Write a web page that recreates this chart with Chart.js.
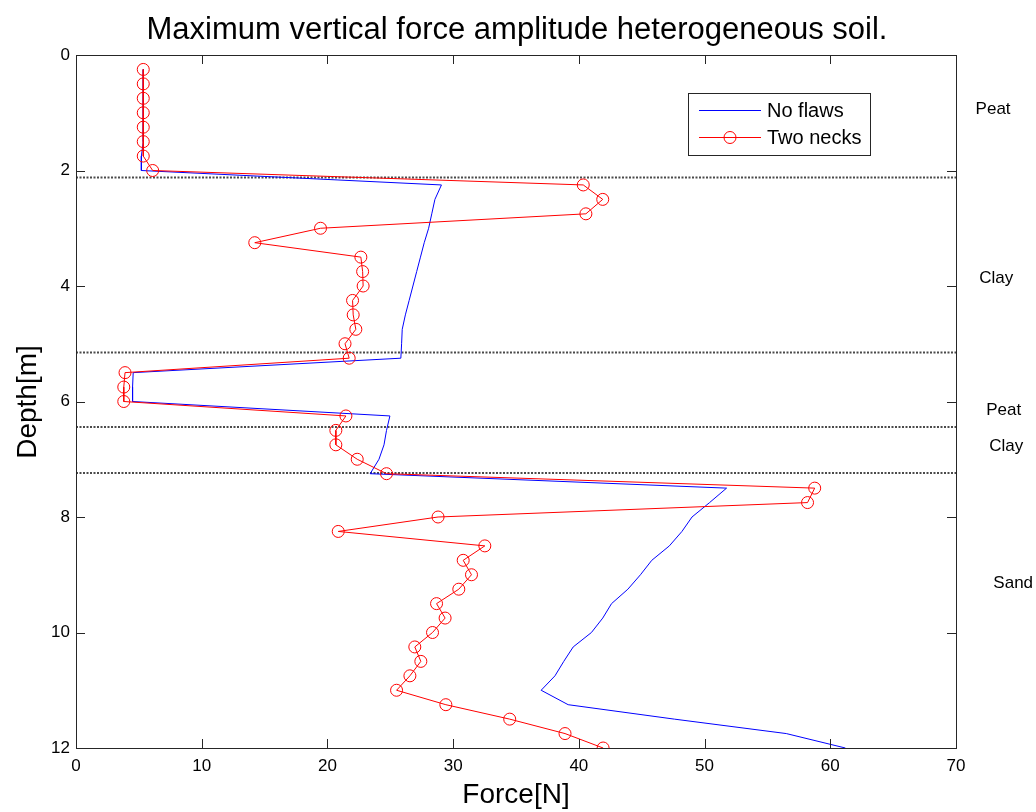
<!DOCTYPE html>
<html>
<head>
<meta charset="utf-8">
<script src="https://cdn.jsdelivr.net/npm/chart.js@4.4.1/dist/chart.umd.min.js"></script>
<style>
  html, body { margin: 0; padding: 0; background: #fff; }
  #c { display: block; }
</style>
</head>
<body>
<canvas id="c" width="1036" height="812"></canvas>
<script>
// ---------- data ----------
const titleText = 'Maximum vertical force amplitude heterogeneous soil.';
const xAxisTitle = 'Force[N]';
const yAxisTitle = 'Depth[m]';

const xTicks = [0, 10, 20, 30, 40, 50, 60, 70];
const yTicks = [0, 2, 4, 6, 8, 10, 12];

// No flaws (blue line)
const noFlawsDepth = [0.25, 0.5, 0.75, 1.0, 1.25, 1.5, 1.75, 2.0,
  2.25, 2.5, 2.75, 3.0, 3.25, 3.5, 3.75, 4.0, 4.25, 4.5, 4.75, 5.0, 5.25,
  5.5, 5.75, 6.0,
  6.25, 6.5, 6.75, 7.0, 7.25,
  7.5, 7.75, 8.0, 8.25, 8.5, 8.75, 9.0, 9.25, 9.5, 9.75, 10.0, 10.25, 10.5, 10.75, 11.0, 11.25, 11.5, 11.75, 12.0];
const noFlawsForce = [5.35, 5.35, 5.35, 5.35, 5.35, 5.35, 5.2, 5.2,
  29.07, 28.55, 28.3, 28.05, 27.7, 27.4, 27.1, 26.8, 26.5, 26.2, 25.95, 25.9, 25.84,
  4.55, 4.5, 4.5,
  24.97, 24.7, 24.5, 24.1, 23.4,
  51.75, 50.4, 49.0, 48.2, 47.2, 45.8, 44.9, 43.9, 42.6, 41.9, 41.0, 39.55, 38.8, 38.1, 37.0, 39.15, 47.6, 56.5, 61.2];

// Two necks (red line with circles)
const twoNecksDepth = [0.25, 0.5, 0.75, 1.0, 1.25, 1.5, 1.75, 2.0,
  2.25, 2.5, 2.75, 3.0, 3.25, 3.5, 3.75, 4.0, 4.25, 4.5, 4.75, 5.0, 5.25,
  5.5, 5.75, 6.0,
  6.25, 6.5, 6.75, 7.0, 7.25,
  7.5, 7.75, 8.0, 8.25, 8.5, 8.75, 9.0, 9.25, 9.5, 9.75, 10.0, 10.25, 10.5, 10.75, 11.0, 11.25, 11.5, 11.75, 12.0];
const twoNecksForce = [5.35, 5.35, 5.35, 5.35, 5.35, 5.35, 5.35, 6.1,
  40.35, 41.9, 40.56, 19.45, 14.22, 22.66, 22.8, 22.84, 22.0, 22.05, 22.26, 21.4, 21.73,
  3.9, 3.8, 3.8,
  21.47, 20.67, 20.67, 22.37, 24.7,
  58.76, 58.19, 28.8, 20.86, 32.52, 30.8, 31.46, 30.45, 28.68, 29.36, 28.36, 26.95, 27.43, 26.56, 25.5, 29.42, 34.5, 38.9, 41.93];

// Soil layer boundaries (depth, m)
const layerBoundaries = [2.12, 5.15, 6.44, 7.24];
// Soil layer labels on the right
const layerNames = ['Peat', 'Clay', 'Peat', 'Clay', 'Sand'];
const layerLabelDepth = [0.94, 3.86, 6.16, 6.77, 9.14];
const layerLabelForce = [72.95, 73.2, 73.8, 74.0, 74.55];

const seriesNames = ['No flaws', 'Two necks'];

// ---------- build ----------
const toPts = (xs, ys) => xs.map((v, i) => ({ x: v, y: ys[i] }));

const datasets = [];
layerBoundaries.forEach(d => {
  datasets.push({
    data: [{ x: 0, y: d }, { x: 70, y: d }],
    showLine: true, borderColor: '#4a4a4a', borderWidth: 2,
    borderDash: [2, 1.5], pointRadius: 0, order: 3
  });
});
datasets.push({
  label: seriesNames[0], data: toPts(noFlawsForce, noFlawsDepth),
  showLine: true, borderColor: '#0000ff', borderWidth: 1, pointRadius: 0, order: 2
});
datasets.push({
  label: seriesNames[1], data: toPts(twoNecksForce, twoNecksDepth),
  showLine: true, borderColor: '#ff0000', borderWidth: 1,
  pointRadius: 6, pointStyle: 'circle', pointBorderColor: '#ff0000',
  pointBackgroundColor: 'rgba(0,0,0,0)', pointBorderWidth: 1, order: 1
});

const FONT = '"Liberation Sans", Arial, Helvetica, sans-serif';

const decor = {
  id: 'decor',
  afterDraw(chart) {
    const ctx = chart.ctx;
    const a = chart.chartArea;
    const xs = chart.scales.x, ys = chart.scales.y;
    ctx.save();
    // frame
    ctx.strokeStyle = '#262626';
    ctx.lineWidth = 1;
    ctx.strokeRect(Math.round(a.left) + 0.5, Math.round(a.top) + 0.5,
      Math.round(a.right - a.left), Math.round(a.bottom - a.top));
    // inward ticks
    const tl = 9;
    ctx.beginPath();
    xTicks.forEach(v => {
      const px = Math.round(xs.getPixelForValue(v)) + 0.5;
      ctx.moveTo(px, a.bottom); ctx.lineTo(px, a.bottom - tl);
      ctx.moveTo(px, a.top); ctx.lineTo(px, a.top + tl);
    });
    yTicks.forEach(v => {
      const py = Math.round(ys.getPixelForValue(v)) + 0.5;
      ctx.moveTo(a.left, py); ctx.lineTo(a.left + tl, py);
      ctx.moveTo(a.right, py); ctx.lineTo(a.right - tl, py);
    });
    ctx.stroke();

    // title
    ctx.fillStyle = '#000';
    ctx.textAlign = 'center';
    ctx.textBaseline = 'middle';
    ctx.font = '31px ' + FONT;
    ctx.fillText(titleText, 517, 30);
    // axis titles
    ctx.font = '28px ' + FONT;
    ctx.fillText(xAxisTitle, 516, 795);
    ctx.save();
    ctx.translate(28, 402);
    ctx.rotate(-Math.PI / 2);
    ctx.fillText(yAxisTitle, 0, 0);
    ctx.restore();

    // layer labels
    ctx.font = '17px ' + FONT;
    layerNames.forEach((n, i) => {
      ctx.fillText(n, xs.getPixelForValue(layerLabelForce[i]), ys.getPixelForValue(layerLabelDepth[i]));
    });

    // legend
    const bx = 688, by = 93, bw = 182, bh = 62;
    ctx.fillStyle = '#fff';
    ctx.fillRect(bx, by, bw, bh);
    ctx.strokeStyle = '#262626';
    ctx.lineWidth = 1;
    ctx.strokeRect(bx + 0.5, by + 0.5, bw, bh);
    ctx.strokeStyle = '#0000ff';
    ctx.beginPath(); ctx.moveTo(699, 110.5); ctx.lineTo(761, 110.5); ctx.stroke();
    ctx.strokeStyle = '#ff0000';
    ctx.beginPath(); ctx.moveTo(699, 137.5); ctx.lineTo(761, 137.5); ctx.stroke();
    ctx.beginPath(); ctx.arc(730, 137.5, 6, 0, Math.PI * 2); ctx.stroke();
    ctx.fillStyle = '#000';
    ctx.textAlign = 'left';
    ctx.font = '20px ' + FONT;
    ctx.fillText(seriesNames[0], 767, 111);
    ctx.fillText(seriesNames[1], 767, 138);
    ctx.restore();
  }
};

new Chart(document.getElementById('c'), {
  type: 'scatter',
  data: { datasets },
  options: {
    responsive: false,
    animation: false,
    layout: { padding: { left: 0, top: 55, right: 80, bottom: 0 } },
    plugins: { legend: { display: false }, tooltip: { enabled: false }, title: { display: false } },
    scales: {
      x: {
        type: 'linear', min: 0, max: 70,
        afterBuildTicks: s => { s.ticks = xTicks.map(v => ({ value: v })); },
        afterFit: s => { s.height = 64; },
        grid: { display: false, drawTicks: false },
        border: { display: false },
        ticks: { color: '#000', padding: 8, font: { family: FONT, size: 17 }, maxRotation: 0, autoSkip: false }
      },
      y: {
        type: 'linear', min: 0, max: 12, reverse: true,
        afterBuildTicks: s => { s.ticks = yTicks.map(v => ({ value: v })); },
        afterFit: s => { s.width = 76; },
        grid: { display: false, drawTicks: false },
        border: { display: false },
        ticks: { color: '#000', padding: 6, font: { family: FONT, size: 17 }, autoSkip: false }
      }
    }
  },
  plugins: [decor]
});
</script>
</body>
</html>
